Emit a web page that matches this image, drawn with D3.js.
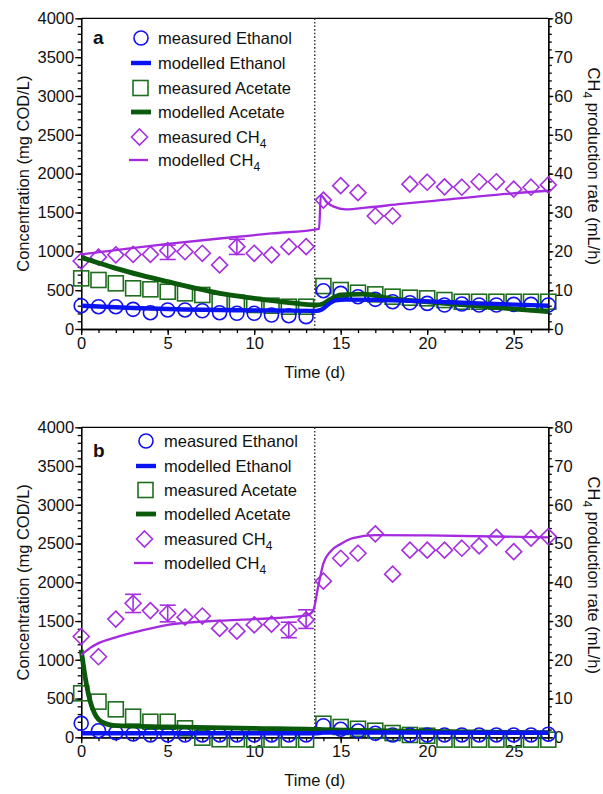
<!DOCTYPE html>
<html>
<head>
<meta charset="utf-8">
<script src="https://cdn.jsdelivr.net/npm/d3@7"></script>
<style>
  body { margin: 0; background: #fff; }
  svg { display: block; }
  text { font-family: "Liberation Sans", Arial, sans-serif; fill: #111; }
</style>
</head>
<body>
<svg id="chart" width="603" height="794"></svg>
<script>
// ---- data ----
const days = [0,1,2,3,4,5,6,7,8,9,10,11,12,13,14,15,16,17,18,19,20,21,22,23,24,25,26,27];

const leftTicks = [0,500,1000,1500,2000,2500,3000,3500,4000];
const rightTicks = [0,10,20,30,40,50,60,70,80];
const xTicks = [0,5,10,15,20,25];
const switchDay = 13.5;

// panel a
const aEthanol = [300,287,287,253,210,245,245,235,210,202,202,180,171,159,493,459,416,382,351,338,330,309,321,309,309,317,317,309];
const aAcetate = [652,631,588,524,511,480,459,438,351,338,309,300,287,287,553,502,467,446,416,403,395,373,351,351,351,351,351,351];
const aCH4 = [17.5,18.5,19.1,19.2,19.2,20.2,19.9,19.5,16.5,21.2,19.5,19.1,21.2,21.2,33.2,36.9,35.1,29.1,29.1,37.3,37.8,36.6,36.5,37.9,37.9,36.0,36.5,37.1];
const aCH4Err = [[5,17.9,21.6],[9,19.2,23.1]];
const aEthanolModel = [[0,300],[3,270],[6,252],[9,242],[12,236],[13.6,233],[13.9,250],[14.3,320],[14.7,368],[15.3,378],[17,375],[20,355],[23,330],[27,300]];
const aAcetateModel = [[0,922],[1,850],[2,781],[3.5,690],[5,609],[6.5,530],[8,459],[10,395],[12,340],[13.6,309],[13.9,318],[14.4,380],[15,440],[16.3,450],[17.8,395],[20.3,343],[22.8,300],[25.3,253],[27,223]];
const aCH4Model = [[0,19.2],[2,20.3],[5,21.9],[8,23.3],[11,24.6],[13.75,25.8],[13.85,34.4],[14.2,32.6],[14.6,31.5],[15.3,30.8],[16.6,31.3],[18.5,32.2],[20.4,33.0],[23.3,34.3],[27,35.6]];

// panel b
const bEthanol = [180,85,60,43,30,30,30,30,30,30,30,30,30,30,150,103,81,52,30,30,30,30,30,30,30,30,30,40];
const bAcetate = [568,460,361,266,201,201,116,-5,-25,-25,-30,-30,-30,-30,175,133,110,85,55,30,20,-30,-30,-30,-30,-30,-30,-30];
const bCH4 = [26.0,20.8,30.5,34.6,32.7,32.0,31.0,31.3,28.1,27.4,29.0,29.2,27.7,30.3,40.3,46.2,47.5,52.5,42.1,48.3,48.3,48.3,48.8,49.4,51.6,47.9,51.4,51.8];
const bCH4Err = [[3,32.2,36.9],[5,29.8,34.1],[12,25.7,29.7],[13,28.1,32.9]];
const bEthanolModel = [[0,52],[5,52],[10,52],[13.5,52],[14,60],[16,62],[20,60],[27,58]];
const bAcetateModel = [[0,1130],[0.25,750],[0.5,480],[0.75,320],[1,230],[1.5,170],[2,150],[5,135],[10,115],[13.5,103],[14,100],[16,90],[20,75],[27,60]];
const bCH4Model = [[0,21.2],[0.5,23.0],[1,24.3],[2,25.8],[3,27.0],[5,29.0],[8,30.1],[10,30.5],[13,31.4],[13.4,32.6],[13.7,38.9],[14.0,44.9],[14.4,47.9],[15.0,49.9],[15.7,51.4],[17,52.2],[20,52.1],[27,51.6]];

const legendItems = ["measured Ethanol","modelled Ethanol","measured Acetate","modelled Acetate","measured CH","modelled CH"];

// ---- colours ----
const C = {
  eth: "#1010f0", ethLine: "#0a14f0",
  ace: "#1f6e1f", aceLine: "#0b5a0b",
  ch4: "#a52ee0", ch4Line: "#a42ae0"
};

const svg = d3.select("#chart");
const X0 = 81.2, X1 = 548.3;
const x = d3.scaleLinear().domain([0, 27]).range([X0, X1]);
const FS = 16.5;
const fmt = d3.format("d");

function styleAxis(sel) {
  sel.select(".domain").attr("stroke", "#000").attr("stroke-width", 1.3);
  sel.selectAll(".tick line").attr("stroke", "#000").attr("stroke-width", 1.3);
  sel.selectAll("text").style("font-size", FS + "px").attr("fill", "#111");
  sel.attr("font-family", null);
}

function diamond(s) { return `M0,${-s}L${s},0L0,${s}L${-s},0Z`; }

function drawPanel(p) {
  const yL = d3.scaleLinear().domain([0, 4000]).range([p.bottom, p.top]);
  const yR = d3.scaleLinear().domain([0, 80]).range([p.bottom, p.top]);
  const g = svg.append("g");

  // top frame line
  g.append("line").attr("x1", X0).attr("x2", X1).attr("y1", p.top).attr("y2", p.top)
    .attr("stroke", "#000").attr("stroke-width", 1.3);

  // left axis: minor then major
  g.append("g").attr("transform", `translate(${X0},0)`)
    .call(d3.axisLeft(yL).tickValues(d3.range(0, 4001, 100)).tickSize(3.5).tickSizeOuter(0).tickFormat(""))
    .call(styleAxis);
  g.append("g").attr("transform", `translate(${X0},0)`)
    .call(d3.axisLeft(yL).tickValues(leftTicks).tickSize(6).tickSizeOuter(0).tickPadding(1).tickFormat(fmt))
    .call(styleAxis);

  // right axis
  g.append("g").attr("transform", `translate(${X1},0)`)
    .call(d3.axisRight(yR).tickValues(d3.range(0, 81, 2)).tickSize(3.5).tickSizeOuter(0).tickFormat(""))
    .call(styleAxis);
  g.append("g").attr("transform", `translate(${X1},0)`)
    .call(d3.axisRight(yR).tickValues(rightTicks).tickSize(5).tickSizeOuter(0).tickPadding(1).tickFormat(fmt))
    .call(styleAxis);

  // bottom axis
  g.append("g").attr("transform", `translate(0,${p.bottom})`)
    .call(d3.axisBottom(x).tickValues(days).tickSize(4).tickSizeOuter(0).tickFormat(""))
    .call(styleAxis);
  g.append("g").attr("transform", `translate(0,${p.bottom})`)
    .call(d3.axisBottom(x).tickValues(xTicks).tickSize(6).tickSizeOuter(0).tickPadding(2).tickFormat(fmt))
    .call(styleAxis);

  // dotted switch line
  g.append("line").attr("x1", x(switchDay)).attr("x2", x(switchDay))
    .attr("y1", p.top).attr("y2", p.bottom)
    .attr("stroke", "#333").attr("stroke-width", 1.4).attr("stroke-dasharray", "1.6,2");

  // axis titles
  g.append("text").attr("transform", `translate(29,${(p.top + p.bottom) / 2}) rotate(-90)`)
    .attr("text-anchor", "middle").style("font-size", FS + "px")
    .text("Concentration (mg COD/L)");
  const rt = g.append("text").attr("transform", `translate(588,${p.top + 148}) rotate(90)`)
    .attr("text-anchor", "middle").style("font-size", FS + "px");
  rt.append("tspan").text("CH");
  rt.append("tspan").attr("dy", 5).style("font-size", "12px").text("4");
  rt.append("tspan").attr("dy", -5).text(" production rate (mL/h)");
  g.append("text").attr("x", x(13.5)).attr("y", p.bottom + 49)
    .attr("text-anchor", "middle").style("font-size", FS + "px").text("Time (d)");

  // panel letter
  g.append("text").attr("x", 93).attr("y", p.letterY)
    .style("font-size", "19px").style("font-weight", "bold").text(p.letter);

  // measured acetate
  g.append("g").selectAll("rect").data(days).join("rect")
    .attr("x", d => x(d) - 7.5).attr("y", (d, i) => yL(p.acetate[i]) - 7.5)
    .attr("width", 15).attr("height", 15)
    .attr("fill", "none").attr("stroke", C.ace).attr("stroke-width", 1.6);

  // measured ethanol
  g.append("g").selectAll("circle").data(days).join("circle")
    .attr("cx", d => x(d)).attr("cy", (d, i) => yL(p.ethanol[i])).attr("r", 7)
    .attr("fill", "none").attr("stroke", C.eth).attr("stroke-width", 1.6);

  // measured CH4 + error bars
  const eb = g.append("g").attr("stroke", C.ch4).attr("stroke-width", 1.6);
  p.ch4Err.forEach(([d, lo, hi]) => {
    eb.append("line").attr("x1", x(d)).attr("x2", x(d)).attr("y1", yR(lo)).attr("y2", yR(hi));
    eb.append("line").attr("x1", x(d) - 8).attr("x2", x(d) + 8).attr("y1", yR(lo)).attr("y2", yR(lo));
    eb.append("line").attr("x1", x(d) - 8).attr("x2", x(d) + 8).attr("y1", yR(hi)).attr("y2", yR(hi));
  });
  g.append("g").selectAll("path").data(days).join("path")
    .attr("transform", (d, i) => `translate(${x(d)},${yR(p.ch4[i])})`)
    .attr("d", diamond(8))
    .attr("fill", "none").attr("stroke", C.ch4).attr("stroke-width", 1.6);

  // model lines
  const lineL = d3.line().x(d => x(d[0])).y(d => yL(d[1])).curve(d3.curveMonotoneX);
  const lineR = d3.line().x(d => x(d[0])).y(d => yR(d[1])).curve(d3.curveMonotoneX);
  g.append("path").datum(p.acetateModel).attr("d", lineL)
    .attr("fill", "none").attr("stroke", C.aceLine).attr("stroke-width", 4.8);
  g.append("path").datum(p.ethanolModel).attr("d", lineL)
    .attr("fill", "none").attr("stroke", C.ethLine).attr("stroke-width", 4.4);
  g.append("path").datum(p.ch4Model).attr("d", lineR)
    .attr("fill", "none").attr("stroke", C.ch4Line).attr("stroke-width", 2.3);

  // legend
  const lg = g.append("g");
  legendItems.forEach((label, i) => {
    const cy = p.legY[i], cx = p.legX;
    if (i === 0) lg.append("circle").attr("cx", cx).attr("cy", cy).attr("r", 7)
      .attr("fill", "none").attr("stroke", C.eth).attr("stroke-width", 1.6);
    if (i === 1) lg.append("line").attr("x1", cx - 10).attr("x2", cx + 10).attr("y1", cy).attr("y2", cy)
      .attr("stroke", C.ethLine).attr("stroke-width", 4.4);
    if (i === 2) lg.append("rect").attr("x", cx - 8).attr("y", cy - 7.5).attr("width", 15).attr("height", 15)
      .attr("fill", "none").attr("stroke", C.ace).attr("stroke-width", 1.6);
    if (i === 3) lg.append("line").attr("x1", cx - 10).attr("x2", cx + 10).attr("y1", cy).attr("y2", cy)
      .attr("stroke", C.aceLine).attr("stroke-width", 4.8);
    if (i === 4) lg.append("path").attr("transform", `translate(${cx - 1.5},${cy})`).attr("d", diamond(8))
      .attr("fill", "none").attr("stroke", C.ch4).attr("stroke-width", 1.6);
    if (i === 5) lg.append("line").attr("x1", cx - 12).attr("x2", cx + 7).attr("y1", cy).attr("y2", cy)
      .attr("stroke", C.ch4Line).attr("stroke-width", 2.3);
    const t = lg.append("text").attr("x", p.legTextX).attr("y", cy).attr("dy", "0.36em")
      .style("font-size", FS + "px");
    t.append("tspan").text(label);
    if (i >= 4) {
      t.append("tspan").attr("dy", 5).style("font-size", "12px").text("4");
    }
  });
}

drawPanel({
  top: 18.3, bottom: 329, letter: "a", letterY: 44,
  ethanol: aEthanol, acetate: aAcetate, ch4: aCH4, ch4Err: aCH4Err,
  ethanolModel: aEthanolModel, acetateModel: aAcetateModel, ch4Model: aCH4Model,
  legX: 141, legTextX: 158, legY: [38, 63, 88, 112, 137, 160]
});

drawPanel({
  top: 427.3, bottom: 737.3, letter: "b", letterY: 457,
  ethanol: bEthanol, acetate: bAcetate, ch4: bCH4, ch4Err: bCH4Err,
  ethanolModel: bEthanolModel, acetateModel: bAcetateModel, ch4Model: bCH4Model,
  legX: 146, legTextX: 164, legY: [441, 466, 490, 514, 539, 563]
});
</script>
</body>
</html>
